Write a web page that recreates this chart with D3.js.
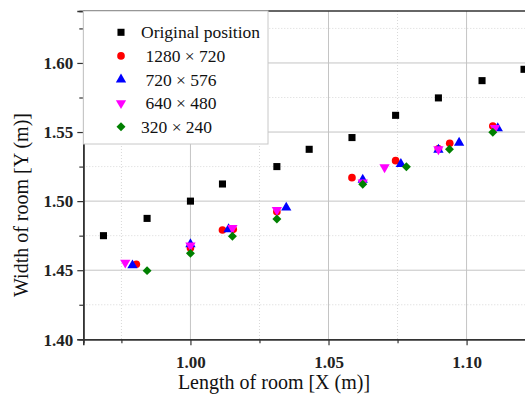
<!DOCTYPE html>
<html>
<head>
<meta charset="utf-8">
<script src="https://cdn.jsdelivr.net/npm/d3@7"></script>
<style>
  body { margin: 0; background: #fff; }
  svg { display: block; font-family: "Liberation Serif", "Times New Roman", serif; }
  .axis text { font-family: "Liberation Serif", "Times New Roman", serif; font-weight: bold; font-size: 17px; }
</style>
</head>
<body>
<svg id="chart" width="525" height="395"></svg>
<script>
// Data: [x, y] in metres
const original = [[0.9685,1.4750],[0.9843,1.4875],[1.0000,1.5000],[1.0116,1.5124],[1.0313,1.5250],
  [1.0430,1.5375],[1.0585,1.5460],[1.0743,1.5621],[1.0898,1.5747],[1.1056,1.5872],[1.1208,1.5954]];
const res1280 = [[0.9804,1.4543],[1.0000,1.4661],[1.0116,1.4791],[1.0155,1.4796],[1.0313,1.4924],
  [1.0585,1.5170],[1.0743,1.5293],[1.0898,1.5378],[1.0939,1.5419],[1.1095,1.5544]];
const res720 = [[0.9790,1.4535],[1.0000,1.4688],[1.0138,1.4796],[1.0347,1.4953],[1.0624,1.5155],
  [1.0762,1.5269],[1.0898,1.5372],[1.0973,1.5423],[1.1113,1.5527]];
const res640 = [[0.9764,1.4555],[1.0000,1.4679],[1.0152,1.4806],[1.0313,1.4936],[1.0624,1.5135],
  [1.0703,1.5245],[1.0898,1.5375],[1.1103,1.5530]];
const res320 = [[0.9843,1.4497],[1.0000,1.4622],[1.0152,1.4746],[1.0313,1.4871],[1.0624,1.5122],
  [1.0782,1.5249],[1.0938,1.5375],[1.1095,1.5498]];

const seriesNames = ["Original position", " 1280 \u00d7 720", " 720 \u00d7 576", " 640 \u00d7 480", "320 \u00d7 240"];
const xMajor = [1.00, 1.05, 1.10];
const xMinor = [0.975, 1.025, 1.075, 1.125];
const yMajor = [1.40, 1.45, 1.50, 1.55, 1.60];
const yMinor = [1.425, 1.475, 1.525, 1.575, 1.625];

const series = [
  { name: seriesNames[0], data: original, color: "#000000", symbol: d3.symbolSquare, size: 50, rot: 0 },
  { name: seriesNames[1], data: res1280, color: "#ff0000", symbol: d3.symbolCircle, size: 46, rot: 0 },
  { name: seriesNames[2], data: res720, color: "#0000ff", symbol: d3.symbolTriangle, size: 46, rot: 0 },
  { name: seriesNames[3], data: res640, color: "#ff00ff", symbol: d3.symbolTriangle, size: 46, rot: 180 },
  { name: seriesNames[4], data: res320, color: "#008000", symbol: d3.symbolSquare, size: 40, rot: 45 }
];

const svg = d3.select("#chart");
const mLeft = 83.3, mTop = 11, mBottom = 339.3, mRight = 545;

const x = d3.scaleLinear().domain([0.9612, 1.1284]).range([mLeft, mRight]);
const y = d3.scaleLinear().domain([1.40, 1.6376]).range([mBottom, mTop]);

// Gridlines
const grid = svg.append("g");
grid.selectAll("line.xminor").data(xMinor).enter().append("line")
  .attr("x1", d => x(d)).attr("x2", d => x(d)).attr("y1", mTop).attr("y2", mBottom)
  .attr("stroke", "#d8d8d8").attr("stroke-dasharray", "1,2");
grid.selectAll("line.yminor").data(yMinor).enter().append("line")
  .attr("x1", mLeft).attr("x2", mRight).attr("y1", d => y(d)).attr("y2", d => y(d))
  .attr("stroke", "#d8d8d8").attr("stroke-dasharray", "1,2");
grid.selectAll("line.xmajor").data(xMajor).enter().append("line")
  .attr("x1", d => x(d)).attr("x2", d => x(d)).attr("y1", mTop).attr("y2", mBottom)
  .attr("stroke", "#c4c4c4");
grid.selectAll("line.ymajor").data(yMajor.slice(1)).enter().append("line")
  .attr("x1", mLeft).attr("x2", mRight).attr("y1", d => y(d)).attr("y2", d => y(d))
  .attr("stroke", "#c4c4c4");

// Axes
const xAxis = svg.append("g").attr("class", "axis").attr("transform", `translate(0,${mBottom})`)
  .call(d3.axisBottom(x).tickValues(xMajor).tickSize(6).tickFormat(d3.format(".2f")));
const xAxisMinor = svg.append("g").attr("transform", `translate(0,${mBottom})`)
  .call(d3.axisBottom(x).tickValues(xMinor).tickSize(4).tickFormat(""));
const yAxis = svg.append("g").attr("class", "axis").attr("transform", `translate(${mLeft},0)`)
  .call(d3.axisLeft(y).tickValues(yMajor).tickSize(6).tickFormat(d3.format(".2f")));
const yAxisMinor = svg.append("g").attr("transform", `translate(${mLeft},0)`)
  .call(d3.axisLeft(y).tickValues(yMinor).tickSize(4).tickFormat(""));

[xAxis, xAxisMinor, yAxis, yAxisMinor].forEach(a => {
  a.attr("font-family", null).attr("font-size", null);
  a.select(".domain").attr("stroke", "#333").attr("stroke-width", 1.6);
  a.selectAll(".tick line").attr("stroke", "#333").attr("stroke-width", 1.2);
});
xAxis.selectAll(".tick text").attr("fill", "#222").attr("dy", "1.15em");
yAxis.selectAll(".tick text").attr("fill", "#222").attr("x", -10).attr("dy", "0.34em");

// Top frame
svg.append("line").attr("x1", mLeft).attr("x2", mRight).attr("y1", mTop).attr("y2", mTop)
  .attr("stroke", "#333").attr("stroke-width", 1.6);

// Points
series.forEach(s => {
  svg.append("g").selectAll("path").data(s.data).enter().append("path")
    .attr("d", d3.symbol().type(s.symbol).size(s.size))
    .attr("transform", d => `translate(${x(d[0])},${y(d[1])}) rotate(${s.rot})`)
    .attr("fill", s.color);
});

// Legend
const legend = svg.append("g");
legend.append("rect").attr("x", mLeft).attr("y", mTop).attr("width", 268 - mLeft).attr("height", 144 - mTop)
  .attr("fill", "#fff").attr("stroke", "#c8c8c8");
const legendY = d3.scaleLinear().domain([0, 4]).range([32.3, 126.7]);
series.forEach((s, i) => {
  legend.append("path")
    .attr("d", d3.symbol().type(s.symbol).size(s.size))
    .attr("transform", `translate(121,${legendY(i)}) rotate(${s.rot})`)
    .attr("fill", s.color);
  legend.append("text")
    .attr("x", 141).attr("y", legendY(i)).attr("dy", "0.35em")
    .attr("font-size", 17.5).attr("fill", "#111")
    .style("white-space", "pre")
    .text(s.name);
});

// Axis titles
svg.append("text").attr("x", 274).attr("y", 389).attr("text-anchor", "middle")
  .attr("font-size", 20).attr("fill", "#111").text("Length of room [X (m)]");
svg.append("text").attr("transform", "translate(28,205) rotate(-90)").attr("text-anchor", "middle")
  .attr("font-size", 20).attr("fill", "#111").text("Width of room [Y (m)]");
</script>
</body>
</html>
